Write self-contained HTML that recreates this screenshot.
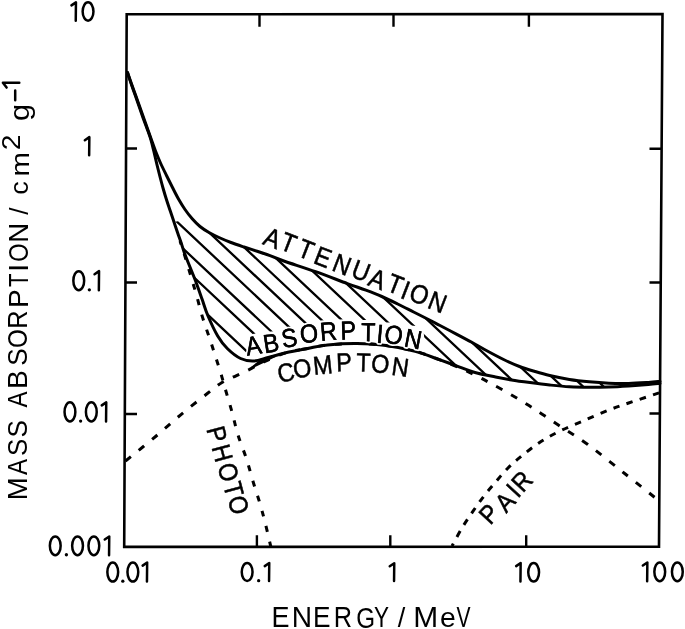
<!DOCTYPE html>
<html><head><meta charset="utf-8"><style>
html,body{margin:0;padding:0;background:#fff;}
body{width:685px;height:629px;overflow:hidden;font-family:"Liberation Sans",sans-serif;}
svg{display:block;will-change:transform;}
</style></head><body>
<svg width="685" height="629" viewBox="0 0 685 629">
<rect width="685" height="629" fill="#fff"/>
<defs><clipPath id="hc"><path d="M192.00,218.50 C193.33,219.83 197.17,224.17 200.00,226.50 C202.83,228.83 205.83,230.67 209.00,232.50 C212.17,234.33 215.33,235.83 219.00,237.50 C222.67,239.17 226.83,240.92 231.00,242.50 C235.17,244.08 239.50,245.50 244.00,247.00 C248.50,248.50 253.67,250.07 258.00,251.50 C262.33,252.93 265.70,254.02 270.00,255.60 C274.30,257.18 276.20,258.32 283.80,261.00 C291.40,263.68 305.00,267.93 315.60,271.70 C326.20,275.47 339.02,280.52 347.40,283.60 C355.78,286.68 360.17,288.05 365.90,290.20 C371.63,292.35 376.50,294.20 381.80,296.50 C387.10,298.80 392.40,301.42 397.70,304.00 C403.00,306.58 408.30,309.33 413.60,312.00 C418.90,314.67 425.10,317.75 429.50,320.00 C433.90,322.25 435.60,323.20 440.00,325.50 C444.40,327.80 450.60,331.00 455.90,333.80 C461.20,336.60 467.03,339.68 471.80,342.30 C476.57,344.92 479.20,346.63 484.50,349.50 C489.80,352.37 497.77,356.67 503.60,359.50 C509.43,362.33 514.27,364.50 519.50,366.50 C524.73,368.50 529.97,370.00 535.00,371.50 C540.03,373.00 543.97,374.18 549.70,375.50 C555.43,376.82 562.82,378.35 569.40,379.40 C575.98,380.45 582.62,381.17 589.20,381.80 C595.78,382.43 602.33,382.93 608.90,383.20 C615.47,383.47 622.03,383.53 628.60,383.40 C635.17,383.27 643.07,382.73 648.30,382.40 C653.53,382.07 658.05,381.57 660.00,381.40 L660.00,383.40 L648.30,384.60 L628.60,386.00 L608.90,387.00 L589.20,387.30 L569.40,386.80 L549.70,385.00 L530.00,382.60 L511.50,380.00 L495.60,377.00 L475.00,372.50 L455.90,365.60 L440.00,359.90 L426.00,353.00 L423.00,327.00 L404.00,324.50 L401.00,322.60 L386.00,322.60 L380.00,322.00 L374.00,320.00 L362.00,320.00 L355.00,319.50 L341.00,319.50 L336.00,319.50 L321.00,320.50 L316.00,322.50 L301.00,324.50 L297.00,326.50 L282.00,329.00 L278.00,331.00 L264.00,332.00 L252.50,334.00 L246.00,357.00 L240.60,358.50 L227.30,348.50 L217.70,336.00 L207.80,315.50 L202.20,299.60 L196.60,283.70 L190.30,267.80 L184.60,253.50 L181.20,243.00 L177.70,233.00 L174.00,222.00 Z"/></clipPath></defs>
<path d="M64.4,180.0 L298.4,400.0 M90.4,180.0 L324.4,400.0 M110.1,180.0 L344.1,400.0 M132.6,180.0 L366.6,400.0 M153.3,180.0 L387.3,400.0 M172.6,180.0 L406.6,400.0 M192.8,180.0 L426.8,400.0 M215.7,180.0 L449.7,400.0 M236.3,180.0 L470.3,400.0 M258.5,180.0 L492.5,400.0 M278.6,180.0 L512.6,400.0 M299.2,180.0 L533.2,400.0 M321.6,180.0 L555.6,400.0 M342.4,180.0 L576.4,400.0 M363.4,180.0 L597.4,400.0 M383.9,180.0 L617.9,400.0 M404.4,180.0 L638.4,400.0 M425.4,180.0 L659.4,400.0 M446.4,180.0 L680.4,400.0 M467.4,180.0 L701.4,400.0 M488.4,180.0 L722.4,400.0" stroke="#000" stroke-width="2.3" fill="none" clip-path="url(#hc)"/>
<path d="M126.7,14.3 L662.5,14.1 L659.0,546.7 L124.2,546.9 Z" fill="none" stroke="#000" stroke-width="2.6" stroke-linejoin="miter"/>
<path d="M259.5,14.2 L259.5,26.7 M393.5,14.3 L393.5,26.8 M528.9,14.2 L528.9,26.7 M256.9,546.8 L256.9,535.3 M390.3,546.8 L390.3,535.3 M526.2,546.7 L526.2,535.2 M126.2,148.5 L137.0,148.5 M125.6,282.5 L137.0,282.5 M124.6,414.0 L137.0,414.0 M662.0,148.7 L649.5,148.7 M661.2,282.5 L649.5,282.5 M660.5,413.5 L649.5,413.5" stroke="#000" stroke-width="2.4" fill="none"/>
<path d="M127.50,72.50 C128.23,74.58 130.50,81.08 131.90,85.00 C133.30,88.92 134.58,92.33 135.90,96.00 C137.22,99.67 138.50,103.33 139.80,107.00 C141.10,110.67 142.40,114.33 143.70,118.00 C145.00,121.67 146.30,125.33 147.60,129.00 C148.90,132.67 150.18,136.33 151.50,140.00 C152.82,143.67 154.00,147.17 155.50,151.00 C157.00,154.83 158.67,158.92 160.50,163.00 C162.33,167.08 164.50,171.42 166.50,175.50 C168.50,179.58 170.50,183.58 172.50,187.50 C174.50,191.42 176.42,195.33 178.50,199.00 C180.58,202.67 182.75,206.25 185.00,209.50 C187.25,212.75 189.50,215.67 192.00,218.50 C194.50,221.33 197.17,224.17 200.00,226.50 C202.83,228.83 205.83,230.67 209.00,232.50 C212.17,234.33 215.33,235.83 219.00,237.50 C222.67,239.17 226.83,240.92 231.00,242.50 C235.17,244.08 239.50,245.50 244.00,247.00 C248.50,248.50 253.67,250.07 258.00,251.50 C262.33,252.93 265.70,254.02 270.00,255.60 C274.30,257.18 276.20,258.32 283.80,261.00 C291.40,263.68 305.00,267.93 315.60,271.70 C326.20,275.47 339.02,280.52 347.40,283.60 C355.78,286.68 360.17,288.05 365.90,290.20 C371.63,292.35 376.50,294.20 381.80,296.50 C387.10,298.80 392.40,301.42 397.70,304.00 C403.00,306.58 408.30,309.33 413.60,312.00 C418.90,314.67 425.10,317.75 429.50,320.00 C433.90,322.25 435.60,323.20 440.00,325.50 C444.40,327.80 450.60,331.00 455.90,333.80 C461.20,336.60 467.03,339.68 471.80,342.30 C476.57,344.92 479.20,346.63 484.50,349.50 C489.80,352.37 497.77,356.67 503.60,359.50 C509.43,362.33 514.27,364.50 519.50,366.50 C524.73,368.50 529.97,370.00 535.00,371.50 C540.03,373.00 543.97,374.18 549.70,375.50 C555.43,376.82 562.82,378.35 569.40,379.40 C575.98,380.45 582.62,381.17 589.20,381.80 C595.78,382.43 602.33,382.93 608.90,383.20 C615.47,383.47 622.03,383.53 628.60,383.40 C635.17,383.27 643.07,382.73 648.30,382.40 C653.53,382.07 658.05,381.57 660.00,381.40" stroke="#000" stroke-width="3" fill="none" stroke-linecap="round"/>
<path d="M127.50,72.50 C128.18,74.58 130.27,81.08 131.60,85.00 C132.93,88.92 134.22,92.33 135.50,96.00 C136.78,99.67 138.03,103.33 139.30,107.00 C140.57,110.67 141.78,114.33 143.10,118.00 C144.42,121.67 145.88,125.33 147.20,129.00 C148.52,132.67 149.87,136.17 151.00,140.00 C152.13,143.83 153.03,148.00 154.00,152.00 C154.97,156.00 155.83,160.00 156.80,164.00 C157.77,168.00 158.77,172.00 159.80,176.00 C160.83,180.00 161.87,184.00 163.00,188.00 C164.13,192.00 165.38,196.17 166.60,200.00 C167.82,203.83 169.07,207.33 170.30,211.00 C171.53,214.67 172.77,218.33 174.00,222.00 C175.23,225.67 176.50,229.50 177.70,233.00 C178.90,236.50 180.05,239.58 181.20,243.00 C182.35,246.42 183.08,249.37 184.60,253.50 C186.12,257.63 188.30,262.77 190.30,267.80 C192.30,272.83 194.62,278.40 196.60,283.70 C198.58,289.00 200.33,294.30 202.20,299.60 C204.07,304.90 205.22,309.43 207.80,315.50 C210.38,321.57 214.45,330.50 217.70,336.00 C220.95,341.50 223.48,344.75 227.30,348.50 C231.12,352.25 236.22,356.42 240.60,358.50 C244.98,360.58 249.00,361.17 253.60,361.00 C258.20,360.83 262.85,358.87 268.20,357.50 C273.55,356.13 279.13,354.30 285.70,352.80 C292.27,351.30 300.62,349.80 307.60,348.50 C314.58,347.20 319.40,345.82 327.60,345.00 C335.80,344.18 347.07,343.52 356.80,343.60 C366.53,343.68 376.27,344.22 386.00,345.50 C395.73,346.78 406.20,348.90 415.20,351.30 C424.20,353.70 433.22,357.52 440.00,359.90 C446.78,362.28 450.07,363.50 455.90,365.60 C461.73,367.70 468.38,370.60 475.00,372.50 C481.62,374.40 489.52,375.75 495.60,377.00 C501.68,378.25 505.77,379.07 511.50,380.00 C517.23,380.93 523.63,381.77 530.00,382.60 C536.37,383.43 543.13,384.30 549.70,385.00 C556.27,385.70 562.82,386.42 569.40,386.80 C575.98,387.18 582.62,387.27 589.20,387.30 C595.78,387.33 602.33,387.22 608.90,387.00 C615.47,386.78 622.03,386.40 628.60,386.00 C635.17,385.60 643.07,385.03 648.30,384.60 C653.53,384.17 658.05,383.60 660.00,383.40" stroke="#000" stroke-width="3" fill="none" stroke-linecap="round"/>
<defs><clipPath id="cl"><rect x="0" y="0" width="300" height="629"/></clipPath><clipPath id="cr"><rect x="300" y="0" width="385" height="629"/></clipPath></defs>
<path id="pc" d="M125.50,461.00 C130.42,457.00 145.70,444.78 155.00,437.00 C164.30,429.22 172.53,421.58 181.30,414.30 C190.07,407.02 200.82,398.60 207.60,393.30 C214.38,388.00 217.27,385.42 222.00,382.50 C226.73,379.58 231.47,377.95 236.00,375.80 C240.53,373.65 244.57,371.90 249.20,369.60 C253.83,367.30 257.72,364.80 263.80,362.00 C269.88,359.20 278.40,355.05 285.70,352.80 C293.00,350.55 300.62,349.80 307.60,348.50 C314.58,347.20 319.40,345.82 327.60,345.00 C335.80,344.18 347.07,343.52 356.80,343.60 C366.53,343.68 376.27,344.22 386.00,345.50 C395.73,346.78 406.20,348.90 415.20,351.30 C424.20,353.70 432.20,356.95 440.00,359.90 C447.80,362.85 455.67,366.23 462.00,369.00 C468.33,371.77 473.33,374.17 478.00,376.50 C482.67,378.83 486.00,380.83 490.00,383.00 C494.00,385.17 497.62,387.03 502.00,389.50 C506.38,391.97 511.80,395.12 516.30,397.80 C520.80,400.48 524.75,402.90 529.00,405.60 C533.25,408.30 536.92,410.77 541.80,414.00 C546.68,417.23 550.63,419.92 558.30,425.00 C565.97,430.08 576.85,436.50 587.80,444.50 C598.75,452.50 612.30,463.75 624.00,473.00 C635.70,482.25 652.33,495.50 658.00,500.00" stroke="#000" stroke-width="3" fill="none" stroke-dasharray="7 10.07" stroke-dashoffset="0.09" clip-path="url(#cl)"/>
<path d="M125.50,461.00 C130.42,457.00 145.70,444.78 155.00,437.00 C164.30,429.22 172.53,421.58 181.30,414.30 C190.07,407.02 200.82,398.60 207.60,393.30 C214.38,388.00 217.27,385.42 222.00,382.50 C226.73,379.58 231.47,377.95 236.00,375.80 C240.53,373.65 244.57,371.90 249.20,369.60 C253.83,367.30 257.72,364.80 263.80,362.00 C269.88,359.20 278.40,355.05 285.70,352.80 C293.00,350.55 300.62,349.80 307.60,348.50 C314.58,347.20 319.40,345.82 327.60,345.00 C335.80,344.18 347.07,343.52 356.80,343.60 C366.53,343.68 376.27,344.22 386.00,345.50 C395.73,346.78 406.20,348.90 415.20,351.30 C424.20,353.70 432.20,356.95 440.00,359.90 C447.80,362.85 455.67,366.23 462.00,369.00 C468.33,371.77 473.33,374.17 478.00,376.50 C482.67,378.83 486.00,380.83 490.00,383.00 C494.00,385.17 497.62,387.03 502.00,389.50 C506.38,391.97 511.80,395.12 516.30,397.80 C520.80,400.48 524.75,402.90 529.00,405.60 C533.25,408.30 536.92,410.77 541.80,414.00 C546.68,417.23 550.63,419.92 558.30,425.00 C565.97,430.08 576.85,436.50 587.80,444.50 C598.75,452.50 612.30,463.75 624.00,473.00 C635.70,482.25 652.33,495.50 658.00,500.00" stroke="#000" stroke-width="3" fill="none" stroke-dasharray="7 9.95" stroke-dashoffset="9.5" clip-path="url(#cr)"/>
<path d="M252,367.5 L262,362.5 L275,356 L262,359.5 Z" fill="#000" stroke="#000" stroke-width="2" stroke-linejoin="round"/>
<path id="pp" d="M180.00,241.00 C180.50,242.50 181.57,245.42 183.00,250.00 C184.43,254.58 187.00,263.17 188.60,268.50 C190.20,273.83 191.20,277.25 192.60,282.00 C194.00,286.75 195.53,291.75 197.00,297.00 C198.47,302.25 199.85,308.22 201.40,313.50 C202.95,318.78 204.70,323.87 206.30,328.70 C207.90,333.53 209.42,337.70 211.00,342.50 C212.58,347.30 214.20,352.50 215.80,357.50 C217.40,362.50 219.07,367.42 220.60,372.50 C222.13,377.58 223.10,381.42 225.00,388.00 C226.90,394.58 229.83,404.17 232.00,412.00 C234.17,419.83 235.58,427.17 238.00,435.00 C240.42,442.83 243.92,451.00 246.50,459.00 C249.08,467.00 251.28,475.67 253.50,483.00 C255.72,490.33 257.85,496.33 259.80,503.00 C261.75,509.67 263.33,515.58 265.20,523.00 C267.07,530.42 270.03,543.42 271.00,547.50" stroke="#000" stroke-width="3" fill="none" stroke-dasharray="6 9.8" stroke-dashoffset="2.3"/>
<path id="pa" d="M452.00,546.00 C453.67,543.00 458.52,533.77 462.00,528.00 C465.48,522.23 469.23,516.73 472.90,511.40 C476.57,506.07 480.18,500.93 484.00,496.00 C487.82,491.07 491.80,486.47 495.80,481.80 C499.80,477.13 503.62,472.37 508.00,468.00 C512.38,463.63 516.60,460.02 522.10,455.60 C527.60,451.18 534.43,445.72 541.00,441.50 C547.57,437.28 554.13,433.88 561.50,430.30 C568.87,426.72 577.30,423.38 585.20,420.00 C593.10,416.62 601.67,412.83 608.90,410.00 C616.13,407.17 622.03,405.25 628.60,403.00 C635.17,400.75 643.07,398.25 648.30,396.50 C653.53,394.75 658.05,393.17 660.00,392.50" stroke="#000" stroke-width="3" fill="none" stroke-dasharray="6.5 7.375" stroke-dashoffset="3.59"/>
<g font-family="'Liberation Sans', sans-serif" fill="#000" font-size="26.5" stroke="#000" stroke-width="0.5"><text x="-8.82" y="9.13" transform="translate(272.50,238.00) rotate(21.00) scale(0.900,1.000)" >A</text>
<text x="-8.07" y="9.13" transform="translate(288.50,242.80) rotate(21.00) scale(0.900,1.000)" >T</text>
<text x="-8.07" y="9.13" transform="translate(306.00,249.50) rotate(21.00) scale(0.900,1.000)" >T</text>
<text x="-9.34" y="9.13" transform="translate(323.30,257.30) rotate(21.00) scale(0.900,1.000)" >E</text>
<text x="-9.57" y="9.13" transform="translate(342.00,264.50) rotate(21.00) scale(0.900,1.000)" >N</text>
<text x="-9.55" y="9.00" transform="translate(361.10,271.00) rotate(21.00) scale(0.900,1.000)" >U</text>
<text x="-8.82" y="9.13" transform="translate(377.50,279.00) rotate(21.00) scale(0.900,1.000)" >A</text>
<text x="-8.07" y="9.13" transform="translate(395.30,284.30) rotate(21.00) scale(0.900,1.000)" >T</text>
<text x="-3.67" y="9.13" transform="translate(405.70,290.10) rotate(21.00) scale(0.900,1.000)" >I</text>
<text x="-10.28" y="9.13" transform="translate(419.30,294.40) rotate(21.00) scale(0.900,1.000)" >O</text>
<text x="-9.57" y="9.13" transform="translate(437.50,302.10) rotate(21.00) scale(0.900,1.000)" >N</text></g>
<g font-family="'Liberation Sans', sans-serif" fill="#000" font-size="26" stroke="#fff" stroke-width="4" paint-order="stroke" stroke-linejoin="round"><text x="-8.66" y="8.96" transform="translate(253.40,345.60) rotate(-10.00) scale(0.900,1.000)" >A</text>
<text x="-9.04" y="8.96" transform="translate(271.50,343.00) rotate(-9.00) scale(0.900,1.000)" >B</text>
<text x="-8.66" y="8.96" transform="translate(289.40,338.00) rotate(-9.00) scale(0.900,1.000)" >S</text>
<text x="-10.09" y="8.96" transform="translate(309.00,333.60) rotate(-7.00) scale(0.900,1.000)" >O</text>
<text x="-9.83" y="8.96" transform="translate(328.70,331.20) rotate(-5.00) scale(0.900,1.000)" >R</text>
<text x="-9.04" y="8.96" transform="translate(348.50,330.40) rotate(-2.00) scale(0.900,1.000)" >P</text>
<text x="-7.92" y="8.96" transform="translate(368.20,332.10) rotate(1.00) scale(0.900,1.000)" >T</text>
<text x="-3.60" y="8.96" transform="translate(380.00,333.90) rotate(5.00) scale(0.900,1.000)" >I</text>
<text x="-10.09" y="8.96" transform="translate(393.70,334.90) rotate(8.00) scale(0.900,1.000)" >O</text>
<text x="-9.39" y="8.96" transform="translate(413.20,339.10) rotate(11.00) scale(0.900,1.000)" >N</text></g>
<g font-family="'Liberation Sans', sans-serif" fill="#000" font-size="26" stroke="#000" stroke-width="0.5"><text x="-8.66" y="8.96" transform="translate(253.40,345.60) rotate(-10.00) scale(0.900,1.000)" >A</text>
<text x="-9.04" y="8.96" transform="translate(271.50,343.00) rotate(-9.00) scale(0.900,1.000)" >B</text>
<text x="-8.66" y="8.96" transform="translate(289.40,338.00) rotate(-9.00) scale(0.900,1.000)" >S</text>
<text x="-10.09" y="8.96" transform="translate(309.00,333.60) rotate(-7.00) scale(0.900,1.000)" >O</text>
<text x="-9.83" y="8.96" transform="translate(328.70,331.20) rotate(-5.00) scale(0.900,1.000)" >R</text>
<text x="-9.04" y="8.96" transform="translate(348.50,330.40) rotate(-2.00) scale(0.900,1.000)" >P</text>
<text x="-7.92" y="8.96" transform="translate(368.20,332.10) rotate(1.00) scale(0.900,1.000)" >T</text>
<text x="-3.60" y="8.96" transform="translate(380.00,333.90) rotate(5.00) scale(0.900,1.000)" >I</text>
<text x="-10.09" y="8.96" transform="translate(393.70,334.90) rotate(8.00) scale(0.900,1.000)" >O</text>
<text x="-9.39" y="8.96" transform="translate(413.20,339.10) rotate(11.00) scale(0.900,1.000)" >N</text></g>
<g font-family="'Liberation Sans', sans-serif" fill="#000" font-size="26" stroke="#000" stroke-width="0.5"><text x="-9.54" y="8.96" transform="translate(286.00,372.50) rotate(-12.00) scale(0.900,1.000)" >C</text>
<text x="-10.09" y="8.96" transform="translate(302.10,368.40) rotate(-10.00) scale(0.900,1.000)" >O</text>
<text x="-10.82" y="8.96" transform="translate(322.80,365.10) rotate(-6.00) scale(0.900,1.000)" >M</text>
<text x="-9.04" y="8.96" transform="translate(344.40,362.30) rotate(-2.00) scale(0.900,1.000)" >P</text>
<text x="-7.92" y="8.96" transform="translate(363.40,362.60) rotate(2.00) scale(0.900,1.000)" >T</text>
<text x="-10.09" y="8.96" transform="translate(380.30,363.80) rotate(5.00) scale(0.900,1.000)" >O</text>
<text x="-9.39" y="8.96" transform="translate(400.40,367.00) rotate(8.00) scale(0.900,1.000)" >N</text></g>
<g font-family="'Liberation Sans', sans-serif" fill="#000" font-size="26" stroke="#000" stroke-width="0.5"><text x="-9.04" y="8.96" transform="translate(217.00,434.50) rotate(75.00) scale(0.900,1.000)" >P</text>
<text x="-9.39" y="8.96" transform="translate(222.40,453.20) rotate(75.00) scale(0.900,1.000)" >H</text>
<text x="-10.09" y="8.96" transform="translate(228.30,472.20) rotate(75.00) scale(0.900,1.000)" >O</text>
<text x="-7.92" y="8.96" transform="translate(233.50,489.20) rotate(75.00) scale(0.900,1.000)" >T</text>
<text x="-10.09" y="8.96" transform="translate(238.60,504.90) rotate(75.00) scale(0.900,1.000)" >O</text></g>
<g font-family="'Liberation Sans', sans-serif" fill="#000" font-size="26" stroke="#000" stroke-width="0.5"><text x="-9.04" y="8.96" transform="translate(489.30,513.80) rotate(-47.00) scale(0.900,1.000)" >P</text>
<text x="-8.66" y="8.96" transform="translate(505.00,502.00) rotate(-47.00) scale(0.900,1.000)" >A</text>
<text x="-3.60" y="8.96" transform="translate(513.30,490.60) rotate(-47.00) scale(0.900,1.000)" >I</text>
<text x="-9.83" y="8.96" transform="translate(522.30,481.00) rotate(-47.00) scale(0.900,1.000)" >R</text></g>
<g fill="none" stroke="#000" stroke-width="2.50" stroke-linecap="round" stroke-linejoin="round"><ellipse cx="112.75" cy="572.05" rx="5.40" ry="9.50"/><circle cx="122.80" cy="581.15" r="1.65" fill="#000" stroke="none"/><ellipse cx="132.85" cy="572.05" rx="5.40" ry="9.50"/><path d="M142.65,565.60 L147.15,562.55 L146.95,581.55"/></g>
<g fill="none" stroke="#000" stroke-width="2.50" stroke-linecap="round" stroke-linejoin="round"><ellipse cx="247.15" cy="572.05" rx="5.40" ry="9.00"/><circle cx="258.65" cy="580.65" r="1.65" fill="#000" stroke="none"/><path d="M264.75,566.10 L269.25,563.05 L269.05,581.05"/></g>
<g fill="none" stroke="#000" stroke-width="2.50" stroke-linecap="round" stroke-linejoin="round"><path d="M389.75,566.30 L394.25,563.25 L394.05,581.05"/></g>
<g fill="none" stroke="#000" stroke-width="2.50" stroke-linecap="round" stroke-linejoin="round"><path d="M516.15,566.10 L520.65,563.05 L520.45,581.55"/><ellipse cx="533.65" cy="572.30" rx="5.40" ry="9.25"/></g>
<g fill="none" stroke="#000" stroke-width="2.50" stroke-linecap="round" stroke-linejoin="round"><path d="M642.85,565.50 L647.35,562.45 L647.15,581.25"/><ellipse cx="659.75" cy="571.85" rx="5.40" ry="9.40"/><ellipse cx="677.35" cy="571.85" rx="5.40" ry="9.40"/></g>
<g fill="none" stroke="#000" stroke-width="2.50" stroke-linecap="round" stroke-linejoin="round"><path d="M71.45,5.40 L75.95,2.35 L75.75,20.65"/><ellipse cx="88.05" cy="11.50" rx="5.40" ry="9.15"/></g>
<g fill="none" stroke="#000" stroke-width="2.50" stroke-linecap="round" stroke-linejoin="round"><path d="M84.85,140.20 L89.35,137.15 L89.15,155.25"/></g>
<g fill="none" stroke="#000" stroke-width="2.50" stroke-linecap="round" stroke-linejoin="round"><ellipse cx="78.75" cy="280.70" rx="5.40" ry="9.55"/><circle cx="89.35" cy="289.85" r="1.65" fill="#000" stroke="none"/><path d="M94.55,274.20 L99.05,271.15 L98.85,290.25"/></g>
<g fill="none" stroke="#000" stroke-width="2.50" stroke-linecap="round" stroke-linejoin="round"><ellipse cx="69.95" cy="411.90" rx="5.40" ry="9.55"/><circle cx="80.63" cy="421.05" r="1.65" fill="#000" stroke="none"/><ellipse cx="91.32" cy="411.90" rx="5.40" ry="9.55"/><path d="M101.75,405.40 L106.25,402.35 L106.05,421.45"/></g>
<g fill="none" stroke="#000" stroke-width="2.50" stroke-linecap="round" stroke-linejoin="round"><ellipse cx="55.25" cy="545.80" rx="5.40" ry="9.35"/><circle cx="66.40" cy="554.75" r="1.65" fill="#000" stroke="none"/><ellipse cx="77.55" cy="545.80" rx="5.40" ry="9.35"/><ellipse cx="93.85" cy="545.80" rx="5.40" ry="9.35"/><path d="M104.75,539.50 L109.25,536.45 L109.05,555.15"/></g>
<g font-family="'Liberation Sans', sans-serif" fill="#000"><text x="-10.40" y="10.16" transform="translate(280.90,616.95) rotate(0.00) scale(0.915,1.002)" font-size="29.50" >E</text><text x="-10.65" y="10.16" transform="translate(301.95,616.95) rotate(0.00) scale(0.954,1.002)" font-size="29.50" >N</text><text x="-10.40" y="10.16" transform="translate(322.20,616.95) rotate(0.00) scale(0.890,1.002)" font-size="29.50" >E</text><text x="-11.15" y="10.16" transform="translate(343.40,616.95) rotate(0.00) scale(0.859,1.002)" font-size="29.50" >R</text><text x="-11.09" y="10.16" transform="translate(365.30,617.10) rotate(0.00) scale(0.821,1.026)" font-size="29.50" >G</text><text x="-9.82" y="10.16" transform="translate(381.50,616.95) rotate(0.00) scale(0.763,1.002)" font-size="29.50" >Y</text><text x="-4.09" y="10.56" transform="translate(401.45,616.95) rotate(0.00) scale(0.918,0.938)" font-size="29.50" >/</text><text x="-12.27" y="10.16" transform="translate(425.70,616.95) rotate(0.00) scale(1.015,1.002)" font-size="29.50" >M</text><text x="-8.16" y="7.80" transform="translate(447.95,619.45) rotate(0.00) scale(0.961,0.936)" font-size="29.50" >e</text><text x="-9.82" y="10.16" transform="translate(463.50,616.95) rotate(0.00) scale(0.713,1.002)" font-size="29.50" >V</text></g>
<g font-family="'Liberation Sans', sans-serif" fill="#000"><text x="-11.65" y="9.65" transform="translate(17.15,488.80) rotate(-90.00) scale(0.984,1.003)" font-size="28.00" >M</text><text x="-9.32" y="9.65" transform="translate(17.22,466.90) rotate(-90.00) scale(0.863,1.003)" font-size="28.00" >A</text><text x="-9.32" y="9.65" transform="translate(17.29,447.25) rotate(-90.00) scale(0.927,1.015)" font-size="28.00" >S</text><text x="-9.32" y="9.65" transform="translate(17.36,428.70) rotate(-90.00) scale(0.933,1.015)" font-size="28.00" >S</text><text x="-9.32" y="9.65" transform="translate(17.46,399.50) rotate(-90.00) scale(0.863,1.003)" font-size="28.00" >A</text><text x="-9.73" y="9.65" transform="translate(17.53,379.30) rotate(-90.00) scale(1.009,1.003)" font-size="28.00" >B</text><text x="-9.32" y="9.65" transform="translate(17.61,357.10) rotate(-90.00) scale(0.933,1.015)" font-size="28.00" >S</text><text x="-10.86" y="9.65" transform="translate(17.67,338.65) rotate(-90.00) scale(0.864,1.015)" font-size="28.00" >O</text><text x="-10.58" y="9.65" transform="translate(17.74,319.30) rotate(-90.00) scale(0.905,1.003)" font-size="28.00" >R</text><text x="-9.73" y="9.65" transform="translate(17.81,298.15) rotate(-90.00) scale(1.002,1.003)" font-size="28.00" >P</text><text x="-8.53" y="9.65" transform="translate(17.88,280.10) rotate(-90.00) scale(0.796,1.003)" font-size="28.00" >T</text><text x="-3.88" y="9.65" transform="translate(17.92,267.80) rotate(-90.00) scale(1.075,1.003)" font-size="28.00" >I</text><text x="-10.86" y="9.65" transform="translate(17.97,252.60) rotate(-90.00) scale(0.838,1.015)" font-size="28.00" >O</text><text x="-10.11" y="9.65" transform="translate(18.04,232.90) rotate(-90.00) scale(0.986,1.003)" font-size="28.00" >N</text><text x="-3.88" y="10.02" transform="translate(18.70,211.05) rotate(-90.00) scale(0.941,0.895)" font-size="28.00" >/</text><text x="-7.21" y="7.41" transform="translate(21.05,187.65) rotate(-90.00) scale(0.970,0.934)" font-size="28.00" >c</text><text x="-11.65" y="7.55" transform="translate(21.75,164.20) rotate(-90.00) scale(1.051,0.951)" font-size="28.00" >m</text><text x="-7.22" y="9.09" transform="translate(11.15,142.40) rotate(-90.00) scale(1.082,1.021)" font-size="26.00" >2</text><text x="-7.46" y="4.62" transform="translate(24.45,112.75) rotate(-90.00) scale(1.106,0.974)" font-size="28.00" >g</text></g>
<path d="M15.2,90.5 L15.2,100.2 M19.3,82.8 L2.9,82.8 L6.6,87.6" stroke="#000" stroke-width="2.5" fill="none" stroke-linecap="round" stroke-linejoin="round"/>
</svg>
</body></html>
